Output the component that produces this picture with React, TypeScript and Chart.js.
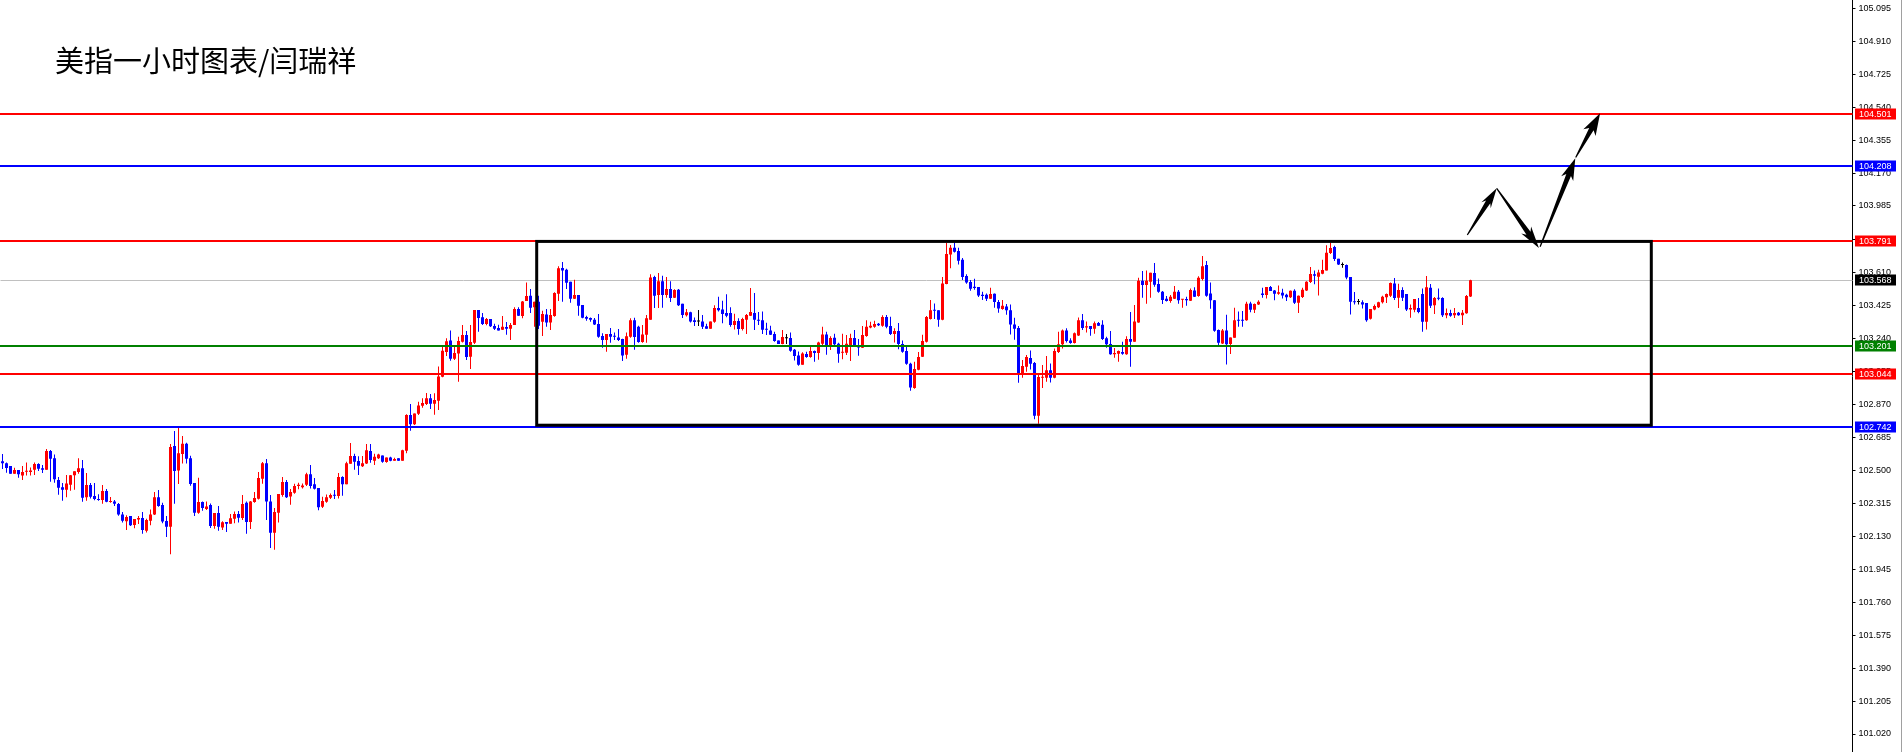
import React, { useEffect, useRef } from 'react';
import { Chart, registerables } from 'chart.js';

Chart.register(...registerables);

// ---- Hourly candles (oldest -> newest) ----
const OPEN = [
  102.552, 102.541, 102.525, 102.482, 102.502, 102.471, 102.493, 102.491, 102.504, 102.536,
  102.512, 102.504, 102.609, 102.569, 102.446, 102.405, 102.392, 102.420, 102.473, 102.491,
  102.512, 102.349, 102.418, 102.356, 102.339, 102.334, 102.384, 102.323, 102.326, 102.311,
  102.253, 102.214, 102.244, 102.194, 102.224, 102.233, 102.162, 102.218, 102.253, 102.350,
  102.306, 102.216, 102.184, 102.637, 102.499, 102.592, 102.650, 102.569, 102.429, 102.263,
  102.323, 102.283, 102.306, 102.188, 102.261, 102.179, 102.211, 102.201, 102.229, 102.255,
  102.233, 102.319, 102.211, 102.323, 102.341, 102.454, 102.541, 102.326, 102.150, 102.263,
  102.362, 102.435, 102.354, 102.375, 102.412, 102.406, 102.420, 102.478, 102.422, 102.401,
  102.296, 102.324, 102.347, 102.362, 102.356, 102.463, 102.423, 102.538, 102.581, 102.553,
  102.524, 102.539, 102.609, 102.554, 102.569, 102.584, 102.547, 102.573, 102.554, 102.569,
  102.554, 102.610, 102.811, 102.760, 102.818, 102.863, 102.873, 102.906, 102.875, 102.891,
  103.026, 103.165, 103.230, 103.127, 103.157, 103.223, 103.260, 103.139, 103.217, 103.401,
  103.360, 103.322, 103.350, 103.311, 103.300, 103.290, 103.305, 103.296, 103.316, 103.406,
  103.367, 103.451, 103.481, 103.416, 103.447, 103.335, 103.376, 103.331, 103.367, 103.492,
  103.637, 103.627, 103.560, 103.464, 103.485, 103.429, 103.361, 103.356, 103.346, 103.322,
  103.255, 103.232, 103.266, 103.255, 103.247, 103.238, 103.150, 103.251, 103.343, 103.307,
  103.221, 103.262, 103.346, 103.586, 103.485, 103.563, 103.485, 103.519, 103.470, 103.515,
  103.436, 103.371, 103.388, 103.344, 103.337, 103.337, 103.309, 103.296, 103.335, 103.412,
  103.404, 103.384, 103.384, 103.316, 103.339, 103.294, 103.346, 103.369, 103.384, 103.346,
  103.343, 103.292, 103.286, 103.266, 103.230, 103.210, 103.242, 103.243, 103.178, 103.146,
  103.094, 103.154, 103.137, 103.170, 103.159, 103.212, 103.264, 103.197, 103.245, 103.212,
  103.161, 103.161, 103.193, 103.243, 103.204, 103.189, 103.255, 103.303, 103.307, 103.324,
  103.313, 103.361, 103.311, 103.266, 103.283, 103.210, 103.170, 103.099, 102.963, 103.066,
  103.139, 103.223, 103.350, 103.399, 103.399, 103.346, 103.547, 103.713, 103.751, 103.732,
  103.683, 103.592, 103.558, 103.532, 103.530, 103.487, 103.487, 103.464, 103.492, 103.446,
  103.406, 103.421, 103.399, 103.320, 103.300, 103.039, 103.082, 103.131, 103.103, 102.807,
  103.021, 103.021, 103.062, 103.021, 103.165, 103.208, 103.286, 103.230, 103.215, 103.258,
  103.343, 103.302, 103.311, 103.296, 103.328, 103.318, 103.242, 103.210, 103.152, 103.155,
  103.165, 103.152, 103.238, 103.223, 103.331, 103.565, 103.541, 103.560, 103.608, 103.547,
  103.504, 103.464, 103.451, 103.464, 103.504, 103.459, 103.462, 103.453, 103.511, 103.479,
  103.575, 103.653, 103.494, 103.455, 103.288, 103.213, 103.286, 103.210, 103.245, 103.343,
  103.344, 103.343, 103.438, 103.403, 103.432, 103.494, 103.485, 103.530, 103.511, 103.492,
  103.498, 103.487, 103.472, 103.509, 103.442, 103.474, 103.511, 103.558, 103.601, 103.588,
  103.605, 103.623, 103.721, 103.754, 103.689, 103.653, 103.653, 103.586, 103.447, 103.446,
  103.444, 103.440, 103.352, 103.404, 103.417, 103.444, 103.472, 103.481, 103.550, 103.470,
  103.513, 103.491, 103.404, 103.403, 103.412, 103.491, 103.335, 103.526, 103.427, 103.468,
  103.468, 103.371, 103.384, 103.371, 103.386, 103.371, 103.382, 103.477,
];

const HIGH = [
  102.592, 102.545, 102.525, 102.515, 102.502, 102.525, 102.545, 102.517, 102.545, 102.541,
  102.530, 102.620, 102.615, 102.590, 102.463, 102.429, 102.474, 102.474, 102.495, 102.569,
  102.558, 102.486, 102.429, 102.429, 102.366, 102.418, 102.396, 102.351, 102.334, 102.317,
  102.267, 102.248, 102.244, 102.227, 102.244, 102.267, 102.229, 102.280, 102.379, 102.390,
  102.319, 102.244, 102.648, 102.721, 102.738, 102.693, 102.656, 102.583, 102.429, 102.459,
  102.326, 102.326, 102.315, 102.261, 102.300, 102.214, 102.211, 102.255, 102.270, 102.272,
  102.362, 102.326, 102.328, 102.379, 102.491, 102.547, 102.564, 102.362, 102.289, 102.368,
  102.463, 102.446, 102.396, 102.425, 102.431, 102.427, 102.487, 102.530, 102.457, 102.401,
  102.352, 102.365, 102.371, 102.390, 102.485, 102.468, 102.549, 102.654, 102.594, 102.579,
  102.581, 102.648, 102.648, 102.594, 102.594, 102.584, 102.573, 102.577, 102.571, 102.569,
  102.616, 102.815, 102.873, 102.820, 102.886, 102.905, 102.935, 102.929, 102.933, 103.084,
  103.198, 103.242, 103.286, 103.200, 103.251, 103.316, 103.283, 103.316, 103.401, 103.401,
  103.384, 103.356, 103.350, 103.324, 103.318, 103.367, 103.333, 103.328, 103.416, 103.416,
  103.451, 103.556, 103.519, 103.447, 103.481, 103.397, 103.406, 103.406, 103.500, 103.646,
  103.670, 103.633, 103.560, 103.571, 103.485, 103.429, 103.369, 103.359, 103.356, 103.378,
  103.271, 103.266, 103.300, 103.275, 103.294, 103.240, 103.275, 103.354, 103.358, 103.313,
  103.316, 103.373, 103.601, 103.593, 103.608, 103.593, 103.586, 103.563, 103.517, 103.519,
  103.436, 103.406, 103.391, 103.359, 103.401, 103.373, 103.324, 103.337, 103.427, 103.476,
  103.453, 103.490, 103.416, 103.380, 103.354, 103.358, 103.378, 103.524, 103.496, 103.389,
  103.393, 103.330, 103.313, 103.279, 103.230, 103.288, 103.266, 103.275, 103.182, 103.168,
  103.163, 103.167, 103.200, 103.174, 103.223, 103.307, 103.279, 103.253, 103.268, 103.217,
  103.268, 103.260, 103.268, 103.288, 103.238, 103.311, 103.344, 103.335, 103.341, 103.328,
  103.371, 103.373, 103.363, 103.298, 103.328, 103.230, 103.193, 103.105, 103.110, 103.165,
  103.262, 103.367, 103.457, 103.438, 103.399, 103.586, 103.777, 103.766, 103.779, 103.751,
  103.693, 103.601, 103.569, 103.577, 103.530, 103.504, 103.494, 103.526, 103.494, 103.457,
  103.457, 103.434, 103.432, 103.358, 103.311, 103.120, 103.148, 103.174, 103.109, 103.039,
  103.092, 103.142, 103.101, 103.185, 103.279, 103.292, 103.298, 103.242, 103.275, 103.359,
  103.378, 103.337, 103.311, 103.337, 103.333, 103.343, 103.251, 103.283, 103.187, 103.174,
  103.223, 103.253, 103.389, 103.429, 103.582, 103.620, 103.623, 103.610, 103.665, 103.578,
  103.507, 103.479, 103.485, 103.535, 103.513, 103.462, 103.476, 103.522, 103.528, 103.590,
  103.704, 103.676, 103.556, 103.457, 103.292, 103.294, 103.374, 103.247, 103.414, 103.393,
  103.395, 103.447, 103.447, 103.438, 103.455, 103.526, 103.530, 103.535, 103.513, 103.539,
  103.520, 103.492, 103.511, 103.517, 103.483, 103.526, 103.563, 103.642, 103.623, 103.627,
  103.683, 103.764, 103.779, 103.762, 103.689, 103.668, 103.657, 103.586, 103.502, 103.462,
  103.455, 103.440, 103.406, 103.432, 103.447, 103.481, 103.494, 103.556, 103.580, 103.549,
  103.528, 103.491, 103.432, 103.462, 103.468, 103.522, 103.592, 103.547, 103.474, 103.522,
  103.472, 103.410, 103.403, 103.412, 103.389, 103.401, 103.485, 103.571,
];

const LOW = [
  102.508, 102.487, 102.482, 102.482, 102.459, 102.446, 102.471, 102.471, 102.474, 102.497,
  102.486, 102.504, 102.437, 102.431, 102.364, 102.330, 102.349, 102.386, 102.392, 102.482,
  102.324, 102.330, 102.343, 102.332, 102.330, 102.313, 102.321, 102.319, 102.300, 102.246,
  102.207, 102.165, 102.188, 102.175, 102.199, 102.145, 102.152, 102.192, 102.250, 102.296,
  102.203, 102.126, 102.030, 102.313, 102.424, 102.539, 102.539, 102.414, 102.244, 102.257,
  102.274, 102.278, 102.177, 102.173, 102.162, 102.165, 102.154, 102.201, 102.203, 102.207,
  102.222, 102.145, 102.171, 102.319, 102.337, 102.425, 102.222, 102.064, 102.055, 102.207,
  102.352, 102.345, 102.307, 102.369, 102.394, 102.399, 102.412, 102.399, 102.393, 102.277,
  102.289, 102.319, 102.339, 102.339, 102.343, 102.358, 102.423, 102.538, 102.504, 102.474,
  102.519, 102.536, 102.543, 102.530, 102.564, 102.543, 102.543, 102.551, 102.554, 102.554,
  102.554, 102.596, 102.723, 102.755, 102.811, 102.852, 102.867, 102.845, 102.813, 102.839,
  103.023, 103.142, 103.116, 103.120, 102.998, 103.219, 103.120, 103.069, 103.210, 103.279,
  103.316, 103.315, 103.305, 103.288, 103.286, 103.288, 103.262, 103.232, 103.316, 103.367,
  103.354, 103.451, 103.384, 103.307, 103.294, 103.255, 103.307, 103.288, 103.363, 103.451,
  103.447, 103.519, 103.442, 103.462, 103.369, 103.354, 103.341, 103.335, 103.316, 103.245,
  103.189, 103.167, 103.217, 103.232, 103.227, 103.114, 103.127, 103.245, 103.178, 103.217,
  103.217, 103.217, 103.346, 103.412, 103.412, 103.414, 103.470, 103.446, 103.468, 103.423,
  103.356, 103.365, 103.331, 103.311, 103.311, 103.294, 103.296, 103.296, 103.330, 103.393,
  103.326, 103.360, 103.307, 103.292, 103.262, 103.286, 103.266, 103.367, 103.288, 103.316,
  103.266, 103.260, 103.260, 103.223, 103.210, 103.208, 103.210, 103.167, 103.118, 103.088,
  103.094, 103.133, 103.133, 103.110, 103.122, 103.200, 103.150, 103.176, 103.200, 103.105,
  103.125, 103.148, 103.114, 103.195, 103.144, 103.187, 103.251, 103.298, 103.301, 103.311,
  103.307, 103.298, 103.260, 103.219, 103.180, 103.161, 103.094, 102.948, 102.959, 103.062,
  103.137, 103.219, 103.348, 103.350, 103.307, 103.344, 103.545, 103.635, 103.724, 103.657,
  103.569, 103.549, 103.509, 103.515, 103.474, 103.457, 103.451, 103.462, 103.414, 103.386,
  103.403, 103.374, 103.264, 103.234, 102.993, 103.021, 103.054, 103.067, 102.787, 102.762,
  102.963, 102.998, 102.994, 103.017, 103.159, 103.185, 103.219, 103.212, 103.213, 103.255,
  103.288, 103.275, 103.256, 103.268, 103.311, 103.232, 103.189, 103.150, 103.133, 103.110,
  103.150, 103.150, 103.082, 103.223, 103.330, 103.470, 103.436, 103.470, 103.532, 103.498,
  103.434, 103.449, 103.442, 103.462, 103.436, 103.414, 103.425, 103.451, 103.474, 103.476,
  103.567, 103.476, 103.408, 103.279, 103.193, 103.210, 103.095, 103.154, 103.245, 103.307,
  103.307, 103.341, 103.388, 103.384, 103.429, 103.470, 103.466, 103.507, 103.455, 103.487,
  103.466, 103.451, 103.468, 103.434, 103.384, 103.468, 103.507, 103.552, 103.545, 103.483,
  103.601, 103.622, 103.715, 103.676, 103.653, 103.638, 103.573, 103.376, 103.432, 103.432,
  103.410, 103.335, 103.348, 103.399, 103.412, 103.438, 103.440, 103.474, 103.457, 103.412,
  103.451, 103.395, 103.358, 103.388, 103.382, 103.279, 103.292, 103.412, 103.378, 103.455,
  103.361, 103.354, 103.363, 103.356, 103.369, 103.316, 103.380, 103.474,
];

const CLOSE = [
  102.541, 102.514, 102.482, 102.502, 102.478, 102.491, 102.497, 102.500, 102.536, 102.510,
  102.504, 102.609, 102.566, 102.450, 102.403, 102.392, 102.427, 102.473, 102.495, 102.512,
  102.347, 102.418, 102.352, 102.339, 102.334, 102.384, 102.324, 102.328, 102.313, 102.252,
  102.218, 102.239, 102.192, 102.227, 102.233, 102.165, 102.222, 102.253, 102.350, 102.300,
  102.213, 102.184, 102.631, 102.497, 102.596, 102.650, 102.566, 102.424, 102.263, 102.323,
  102.289, 102.298, 102.188, 102.261, 102.184, 102.209, 102.201, 102.231, 102.255, 102.235,
  102.311, 102.211, 102.326, 102.345, 102.457, 102.541, 102.326, 102.150, 102.267, 102.368,
  102.435, 102.350, 102.379, 102.412, 102.420, 102.416, 102.478, 102.412, 102.397, 102.294,
  102.328, 102.350, 102.362, 102.358, 102.463, 102.423, 102.541, 102.581, 102.549, 102.526,
  102.541, 102.614, 102.558, 102.577, 102.590, 102.549, 102.573, 102.554, 102.564, 102.554,
  102.614, 102.811, 102.760, 102.820, 102.865, 102.878, 102.906, 102.875, 102.895, 103.028,
  103.172, 103.225, 103.127, 103.159, 103.227, 103.260, 103.137, 103.221, 103.401, 103.356,
  103.322, 103.350, 103.309, 103.296, 103.286, 103.307, 103.296, 103.316, 103.406, 103.369,
  103.449, 103.479, 103.414, 103.447, 103.313, 103.378, 103.331, 103.373, 103.496, 103.635,
  103.622, 103.554, 103.464, 103.485, 103.425, 103.358, 103.352, 103.346, 103.320, 103.251,
  103.232, 103.266, 103.251, 103.251, 103.232, 103.146, 103.253, 103.343, 103.249, 103.221,
  103.264, 103.354, 103.584, 103.481, 103.563, 103.485, 103.519, 103.468, 103.513, 103.427,
  103.373, 103.388, 103.337, 103.333, 103.337, 103.307, 103.296, 103.337, 103.412, 103.399,
  103.378, 103.369, 103.316, 103.339, 103.294, 103.350, 103.373, 103.389, 103.346, 103.341,
  103.290, 103.290, 103.262, 103.227, 103.210, 103.249, 103.242, 103.172, 103.142, 103.094,
  103.157, 103.137, 103.170, 103.159, 103.219, 103.264, 103.202, 103.243, 103.208, 103.155,
  103.167, 103.212, 103.243, 103.200, 103.191, 103.260, 103.307, 103.313, 103.322, 103.315,
  103.361, 103.307, 103.266, 103.283, 103.210, 103.167, 103.099, 102.966, 103.069, 103.137,
  103.227, 103.361, 103.399, 103.397, 103.346, 103.550, 103.715, 103.751, 103.728, 103.678,
  103.586, 103.556, 103.520, 103.524, 103.483, 103.479, 103.464, 103.491, 103.446, 103.410,
  103.425, 103.399, 103.320, 103.296, 103.039, 103.086, 103.137, 103.099, 102.807, 103.024,
  103.026, 103.062, 103.021, 103.170, 103.208, 103.286, 103.227, 103.215, 103.270, 103.343,
  103.300, 103.309, 103.294, 103.326, 103.313, 103.238, 103.208, 103.152, 103.159, 103.170,
  103.155, 103.238, 103.223, 103.337, 103.565, 103.541, 103.565, 103.610, 103.543, 103.504,
  103.457, 103.451, 103.476, 103.504, 103.455, 103.462, 103.455, 103.513, 103.476, 103.582,
  103.646, 103.481, 103.455, 103.285, 103.217, 103.286, 103.208, 103.247, 103.343, 103.341,
  103.341, 103.436, 103.403, 103.434, 103.447, 103.485, 103.530, 103.507, 103.492, 103.500,
  103.483, 103.472, 103.509, 103.442, 103.481, 103.515, 103.560, 103.603, 103.593, 103.612,
  103.625, 103.723, 103.749, 103.687, 103.657, 103.653, 103.584, 103.447, 103.444, 103.446,
  103.432, 103.344, 103.406, 103.423, 103.444, 103.476, 103.491, 103.552, 103.468, 103.513,
  103.470, 103.404, 103.412, 103.462, 103.389, 103.335, 103.528, 103.425, 103.468, 103.464,
  103.371, 103.384, 103.369, 103.384, 103.371, 103.386, 103.479, 103.568,
];

// Time slots on the x axis (candles + empty space on the right)
const SLOT_COUNT = 463;
const CATEGORIES = Array.from({ length: SLOT_COUNT }, (_, i) => String(i));

// Price-axis tick labels
const TICK_VALUES = [
  105.095, 104.91, 104.725, 104.54, 104.355, 104.17, 103.985, 103.795, 103.61, 103.425,
  103.24, 103.055, 102.87, 102.685, 102.5, 102.315, 102.13, 101.945, 101.76, 101.575,
  101.39, 101.205, 101.02,
];
const Y_MIN = 100.919;
const Y_MAX = 105.1416;

// Horizontal levels and their colours
const LEVELS = [104.501, 104.208, 103.791, 103.201, 103.044, 102.742];
const LEVEL_COLORS = ['#ff0000', '#0000ff', '#ff0000', '#008000', '#ff0000', '#0000ff'];
const BID = 103.568;

// Range rectangle (slot index / price)
const RANGE_BOX = { from: 133.55, to: 412.2, top: 103.786, bottom: 102.754 };

// Arrows: [tailSlot, tailPrice, tipSlot, tipPrice]
const ARROWS = [
  [366.2, 103.822, 373.55, 104.084],
  [373.55, 104.084, 384.1, 103.749],
  [384.4, 103.756, 393.2, 104.253],
  [393.3, 104.257, 399.4, 104.505],
];
// [head length, head half-width] in px
const ARROW_HEADS = [
  [16, 5.5],
  [18, 6],
  [18, 6.5],
  [18, 7],
];

const BULL = '#ff0000';
const BEAR = '#0000ff';
const DOJI = '#000000';

function candleColor(i: number) {
  if (CLOSE[i] > OPEN[i]) return BULL;
  if (CLOSE[i] < OPEN[i]) return BEAR;
  return DOJI;
}

function drawArrow(ctx: CanvasRenderingContext2D, tx: number, ty: number, px: number, py: number, headLen: number, headHalf: number) {
  const dx = px - tx;
  const dy = py - ty;
  const len = Math.hypot(dx, dy);
  const ux = dx / len;
  const uy = dy / len;
  const nx = -uy;
  const ny = ux;
  const bx = px - ux * headLen;
  const by = py - uy * headLen;
  const t0 = 0.6;
  const s1 = 2.5;
  const back = 4;
  ctx.beginPath();
  ctx.moveTo(tx + nx * t0, ty + ny * t0);
  ctx.lineTo(bx + nx * s1, by + ny * s1);
  ctx.lineTo(bx + nx * headHalf - ux * back, by + ny * headHalf - uy * back);
  ctx.lineTo(px, py);
  ctx.lineTo(bx - nx * headHalf - ux * back, by - ny * headHalf - uy * back);
  ctx.lineTo(bx - nx * s1, by - ny * s1);
  ctx.lineTo(tx - nx * t0, ty - ny * t0);
  ctx.closePath();
  ctx.fill();
}

const overlayPlugin = {
  id: 'overlay',
  beforeDatasetsDraw(chart: any) {
    const { ctx, chartArea, scales } = chart;
    const y = scales.y.getPixelForValue(BID);
    ctx.save();
    ctx.strokeStyle = '#c0c0c0';
    ctx.lineWidth = 1;
    ctx.beginPath();
    ctx.moveTo(chartArea.left, Math.round(y) + 0.5);
    ctx.lineTo(chartArea.right, Math.round(y) + 0.5);
    ctx.stroke();
    ctx.restore();
  },
  afterDatasetsDraw(chart: any) {
    const { ctx, chartArea, scales } = chart;
    const xs = scales.x;
    const ys = scales.y;
    ctx.save();
    LEVELS.forEach((v, k) => {
      const y = Math.round(ys.getPixelForValue(v));
      ctx.strokeStyle = LEVEL_COLORS[k];
      ctx.lineWidth = 2;
      ctx.beginPath();
      ctx.moveTo(chartArea.left - 1, y);
      ctx.lineTo(chartArea.right, y);
      ctx.stroke();
    });
    const x0 = xs.getPixelForValue(RANGE_BOX.from);
    const x1 = xs.getPixelForValue(RANGE_BOX.to);
    const y0 = ys.getPixelForValue(RANGE_BOX.top);
    const y1 = ys.getPixelForValue(RANGE_BOX.bottom);
    ctx.strokeStyle = '#000000';
    ctx.lineWidth = 3;
    ctx.strokeRect(x0, y0, x1 - x0, y1 - y0);
    ctx.fillStyle = '#000000';
    ARROWS.forEach((a, k) => {
      drawArrow(
        ctx,
        xs.getPixelForValue(a[0]),
        ys.getPixelForValue(a[1]),
        xs.getPixelForValue(a[2]),
        ys.getPixelForValue(a[3]),
        ARROW_HEADS[k][0],
        ARROW_HEADS[k][1]
      );
    });
    ctx.restore();
  },
  afterDraw(chart: any) {
    const { ctx, chartArea, scales } = chart;
    const ys = scales.y;
    ctx.save();
    const labels: [number, string][] = LEVELS.map((v, k) => [v, LEVEL_COLORS[k]] as [number, string]);
    labels.push([BID, '#000000']);
    ctx.font = '9px "Liberation Sans", Arial, sans-serif';
    ctx.textBaseline = 'middle';
    ctx.textAlign = 'left';
    labels.forEach(([v, c]) => {
      const y = Math.round(ys.getPixelForValue(v));
      ctx.fillStyle = c;
      ctx.fillRect(chartArea.right + 2.5, y - 5.5, 41, 11);
      ctx.fillStyle = '#ffffff';
      ctx.fillText(v.toFixed(3), chartArea.right + 6.5, y + 0.5);
    });
    ctx.strokeStyle = '#a0a0a0';
    ctx.lineWidth = 1;
    ctx.beginPath();
    ctx.moveTo(1901.5, 0);
    ctx.lineTo(1901.5, 752);
    ctx.stroke();
    ctx.restore();
  },
};

export default function App() {
  const canvasRef = useRef<HTMLCanvasElement | null>(null);

  useEffect(() => {
    document.documentElement.style.overflow = 'hidden';
    const canvas = canvasRef.current;
    if (!canvas) return;

    const wicks = CATEGORIES.map((_, i) => (i < OPEN.length ? [LOW[i], HIGH[i]] : null));
    const bodies = CATEGORIES.map((_, i) => (i < OPEN.length ? [OPEN[i], CLOSE[i]] : null));
    const colors = CATEGORIES.map((_, i) => (i < OPEN.length ? candleColor(i) : '#000000'));

    const chart = new Chart(canvas, {
      type: 'bar',
      data: {
        labels: CATEGORIES,
        datasets: [
          {
            label: 'wick',
            data: wicks as any,
            backgroundColor: colors,
            borderWidth: 0,
            grouped: false,
            categoryPercentage: 1,
            barPercentage: 0.25,
            inflateAmount: 0,
          } as any,
          {
            label: 'body',
            data: bodies as any,
            backgroundColor: colors,
            borderWidth: 0,
            grouped: false,
            categoryPercentage: 1,
            barPercentage: 0.75,
            inflateAmount: 0,
            minBarLength: 1,
          } as any,
        ],
      },
      options: {
        responsive: false,
        animation: false,
        devicePixelRatio: 1,
        events: [],
        layout: { padding: { left: 0.5, right: 0, top: 0, bottom: 0 } },
        plugins: {
          legend: { display: false },
          tooltip: { enabled: false },
          title: { display: false },
        },
        scales: {
          x: {
            type: 'category',
            display: false,
            offset: true,
            grid: { display: false },
          },
          y: {
            type: 'linear',
            position: 'right',
            min: Y_MIN,
            max: Y_MAX,
            afterBuildTicks: (scale: any) => {
              scale.ticks = TICK_VALUES.map((v) => ({ value: v }));
            },
            afterFit: (scale: any) => {
              scale.width = 51.5;
              scale.paddingTop = 0;
              scale.paddingBottom = 0;
            },
            ticks: {
              autoSkip: false,
              padding: 3,
              color: '#000000',
              font: { family: '"Liberation Sans", Arial, sans-serif', size: 9 },
              callback: (v: any) => Number(v).toFixed(3),
            },
            grid: {
              drawOnChartArea: false,
              drawTicks: true,
              tickLength: 3,
              color: '#000000',
              lineWidth: 1,
            },
            border: { display: true, color: '#000000', width: 1 },
          },
        },
      },
      plugins: [overlayPlugin],
    });

    return () => {
      chart.destroy();
    };
  }, []);

  return (
    <div style={{ position: 'absolute', left: 0, top: 0, width: 1904, height: 752, background: '#ffffff' }}>
      <canvas ref={canvasRef} width={1904} height={752} style={{ display: 'block' }} />
      <div
        style={{
          position: 'absolute',
          left: 55,
          top: 45,
          fontFamily: '"Noto Sans CJK SC", sans-serif',
          fontSize: 29,
          lineHeight: '29px',
          color: '#000000',
          whiteSpace: 'nowrap',
        }}
      >
        美指一小时图表/闫瑞祥
      </div>
    </div>
  );
}
